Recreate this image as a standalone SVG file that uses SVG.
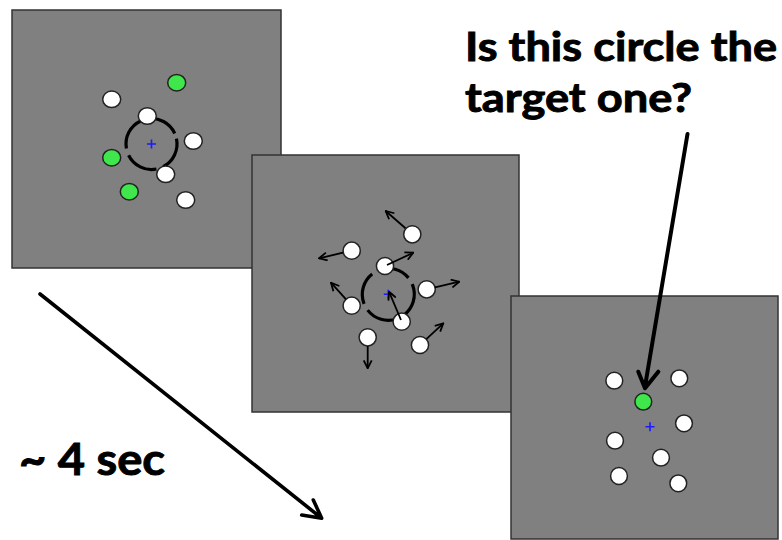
<svg xmlns="http://www.w3.org/2000/svg" width="782" height="540" viewBox="0 0 782 540">
<style>
.panel{fill:#808080;stroke:#333;stroke-width:1.5}
.w{fill:#fff;stroke:#222;stroke-width:1.5}
.g{fill:#3fe64c;stroke:#222;stroke-width:1.5}
.cross{stroke:#1a1aff;stroke-width:1.6;fill:none}
.dash{fill:none;stroke:#000;stroke-width:3.2;stroke-dasharray:33 7.2}
.mv{stroke:#000;stroke-width:1.8;fill:none}
.big{stroke:#000;fill:none;stroke-linecap:round;stroke-linejoin:round}
.lbl{font-family:Lato,"Open Sans","Liberation Sans",sans-serif;font-weight:bold;fill:#000;stroke:#000;stroke-width:0.9}
</style>
<defs>
<marker id="ah" viewBox="0 0 10 10" refX="9" refY="5" markerWidth="10" markerHeight="10" markerUnits="userSpaceOnUse" orient="auto">
<path d="M1,1 L9,5 L1,9" fill="none" stroke="#000" stroke-width="1.8"/>
</marker>
</defs>

<g id="panel1">
<rect class="panel" x="12" y="10" width="269" height="258"/>
<circle class="dash" cx="151.5" cy="144" r="25.5" transform="rotate(-12 151.5 144)"/>
<path class="cross" d="M147,144 H156 M151.5,139.5 V148.5"/>
<ellipse class="g" cx="176.7" cy="82.7" rx="9" ry="8.3"/>
<ellipse class="w" cx="111.7" cy="99.3" rx="9" ry="8.3"/>
<ellipse class="w" cx="147.3" cy="116" rx="9" ry="8.3"/>
<ellipse class="w" cx="193.3" cy="141" rx="9" ry="8.3"/>
<ellipse class="g" cx="111.7" cy="157.7" rx="9" ry="8.3"/>
<ellipse class="w" cx="165.7" cy="174.3" rx="9" ry="8.3"/>
<ellipse class="g" cx="129.3" cy="191.7" rx="9" ry="8.3"/>
<ellipse class="w" cx="185.7" cy="200" rx="9" ry="8.3"/>
</g>

<g id="panel2">
<rect class="panel" x="252" y="155" width="267" height="257"/>
<circle class="dash" cx="388.3" cy="294.3" r="26" transform="rotate(-20 388.3 294.3)"/>
<path class="cross" d="M383.8,294.3 H392.8 M388.3,289.8 V298.8"/>
<circle class="w" cx="412.3" cy="234.3" r="8.6"/>
<circle class="w" cx="351.7" cy="250.7" r="8.6"/>
<circle class="w" cx="385" cy="266" r="8.6"/>
<circle class="w" cx="426.7" cy="289.3" r="8.6"/>
<circle class="w" cx="351.7" cy="305.7" r="8.6"/>
<circle class="w" cx="401.7" cy="321.7" r="8.6"/>
<circle class="w" cx="367.7" cy="337.3" r="8.6"/>
<circle class="w" cx="420" cy="345" r="8.6"/>
</g>

<g id="panel3">
<rect class="panel" x="511" y="296" width="267" height="243"/>
<path class="cross" d="M645.5,426.7 H654.5 M650,422.2 V431.2"/>
<circle class="w" cx="614.3" cy="380.7" r="8.4"/>
<circle class="w" cx="679.3" cy="378.3" r="8.4"/>
<circle class="g" cx="643.3" cy="401.7" r="8.4"/>
<circle class="w" cx="684" cy="423.3" r="8.4"/>
<circle class="w" cx="615" cy="440.7" r="8.4"/>
<circle class="w" cx="661" cy="457.7" r="8.4"/>
<circle class="w" cx="619" cy="476" r="8.4"/>
<circle class="w" cx="678.3" cy="483.3" r="8.4"/>
</g>

<g id="connectors">
<line class="mv" x1="405.5" y1="228.3" x2="385.7" y2="211" marker-end="url(#ah)"/>
<line class="mv" x1="343" y1="252.7" x2="319" y2="258.3" marker-end="url(#ah)"/>
<line class="mv" x1="387" y1="265" x2="413.3" y2="252.7" marker-end="url(#ah)"/>
<line class="mv" x1="435" y1="287.4" x2="459.3" y2="281.7" marker-end="url(#ah)"/>
<line class="mv" x1="345.8" y1="299.2" x2="331" y2="282.7" marker-end="url(#ah)"/>
<line class="mv" x1="401" y1="320" x2="389" y2="291.7" marker-end="url(#ah)"/>
<line class="mv" x1="367.7" y1="346" x2="367.7" y2="368.3" marker-end="url(#ah)"/>
<line class="mv" x1="426.3" y1="339.2" x2="443.3" y2="323.3" marker-end="url(#ah)"/>
<path class="big" stroke-width="4" d="M687.5,134 L645,386.5 M638.3,371.7 L645,388.3 L658.3,371.7"/>
<path class="big" stroke-width="3.6" d="M40,294 L320.5,517.3 M301.7,515 L321.7,518.3 L313.3,500"/>
</g>

<g id="labels">
<text class="lbl" x="465" y="61" font-size="40" textLength="312" lengthAdjust="spacingAndGlyphs">Is this circle the</text>
<text class="lbl" x="465" y="112.3" font-size="40" textLength="227" lengthAdjust="spacingAndGlyphs">target one?</text>
<text class="lbl" x="19" y="475" font-size="44" textLength="146" lengthAdjust="spacingAndGlyphs">~ 4 sec</text>
</g>
</svg>
